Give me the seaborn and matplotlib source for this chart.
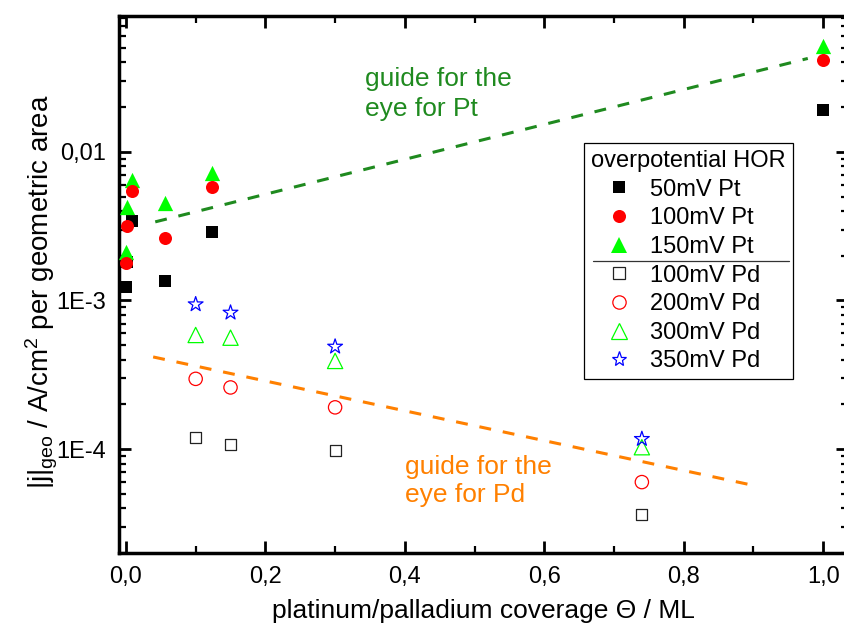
import numpy as np
import pandas as pd
import matplotlib
matplotlib.use("Agg")
import matplotlib.pyplot as plt
import seaborn as sns
from matplotlib.lines import Line2D
from matplotlib.ticker import LogLocator, NullFormatter, FixedLocator

# ---- data: current density |j| (A/cm^2 geometric) vs. coverage (ML) ----
pt_coverage = [0.0, 0.002, 0.008, 0.056, 0.123, 1.0]
pt_50mV = [1.23e-3, 1.82e-3, 3.43e-3, 1.35e-3, 2.89e-3, 0.0192]
pt_100mV = [1.79e-3, 3.18e-3, 5.46e-3, 2.64e-3, 5.81e-3, 0.0417]
pt_150mV = [2.12e-3, 4.27e-3, 6.48e-3, 4.54e-3, 7.22e-3, 0.0518]

pd_coverage = [0.10, 0.15, 0.30, 0.74]
pd_100mV = [1.19e-4, 1.08e-4, 9.8e-5, 3.65e-5]
pd_200mV = [2.97e-4, 2.60e-4, 1.91e-4, 6.0e-5]
pd_300mV = [5.86e-4, 5.62e-4, 3.92e-4, 1.03e-4]
pd_350mV = [9.42e-4, 8.28e-4, 4.89e-4, 1.17e-4]

# guide-for-the-eye lines (end points)
guide_pt_x = [0.042, 0.978]
guide_pt_y = [3.38e-3, 0.0425]
guide_pd_x = [0.039, 0.90]
guide_pd_y = [4.17e-4, 5.7e-5]

x_ticks = [0.0, 0.2, 0.4, 0.6, 0.8, 1.0]
x_tick_labels = ["0,0", "0,2", "0,4", "0,6", "0,8", "1,0"]
y_ticks = [1e-4, 1e-3, 1e-2]
y_tick_labels = ["1E-4", "1E-3", "0,01"]

legend_title = "overpotential HOR"

# ---- style ----
sns.set_theme(style="ticks")
plt.rcParams.update({
    "font.family": ["Liberation Sans", "DejaVu Sans"],
    "mathtext.default": "regular",
    "text.color": "black",
    "axes.labelcolor": "black",
    "axes.edgecolor": "black",
    "xtick.color": "black",
    "ytick.color": "black",
})

fig = plt.figure(figsize=(8.45, 6.28), dpi=100)
ax = fig.add_axes([0.1408, 0.1194, 1.003 - 0.1408, 0.9745 - 0.1194])

GREEN = "#00ff00"
RED = "#ff0000"
BLUE = "#0000ff"
DARK_GREEN = "#1f8a1f"
ORANGE = "#ff8000"

# guide lines
ax.plot(guide_pt_x, guide_pt_y, color=DARK_GREEN, lw=2.2, ls=(0, (3.9, 3.9)), zorder=1)
ax.plot(guide_pd_x, guide_pd_y, color=ORANGE, lw=2.2, ls=(0, (3.9, 3.9)), zorder=1)

# filled Pt series (squares, triangles, circles in drawing order)
pt_series = [
    ("50mV Pt", pt_50mV, "s", "black", 74),
    ("150mV Pt", pt_150mV, "^", GREEN, 121),
    ("100mV Pt", pt_100mV, "o", RED, 88),
]
for label, vals, mk, col, size in pt_series:
    df = pd.DataFrame({"coverage": pt_coverage, "j": vals})
    sns.scatterplot(data=df, x="coverage", y="j", marker=mk, color=col,
                    edgecolor=col, linewidth=0, s=size, ax=ax, legend=False,
                    zorder=3)

# open Pd series
pd_series = [
    ("100mV Pd", pd_100mV, "s", "#222222", 64),
    ("200mV Pd", pd_200mV, "o", RED, 92),
    ("300mV Pd", pd_300mV, "^", GREEN, 121),
    ("350mV Pd", pd_350mV, "*", BLUE, 125),
]
for label, vals, mk, col, size in pd_series:
    df = pd.DataFrame({"coverage": pd_coverage, "j": vals})
    sns.scatterplot(data=df, x="coverage", y="j", marker=mk, facecolor="none",
                    edgecolor=col, linewidth=0.9, s=size, ax=ax, legend=False,
                    zorder=3)

# axes scales and ticks
ax.set_yscale("log")
ax.set_xlim(-0.01, 1.035)
ax.set_ylim(2e-5, 0.082)
ax.set_xticks(x_ticks, x_tick_labels)
ax.xaxis.set_minor_locator(FixedLocator([0.1, 0.3, 0.5, 0.7, 0.9]))
ax.set_yticks(y_ticks, y_tick_labels)
ax.yaxis.set_minor_locator(LogLocator(base=10, subs=np.arange(2, 10)))
ax.yaxis.set_minor_formatter(NullFormatter())

ax.tick_params(which="major", direction="in", length=8.6, width=2.0,
               top=True, right=True, labelsize=17, pad=9)
ax.tick_params(which="minor", direction="in", length=5, width=1.6,
               top=True, right=True)
for sp in ax.spines.values():
    sp.set_linewidth(2.5)
    sp.set_visible(True)

ax.set_xlabel("platinum/palladium coverage \u0398 / ML", fontsize=19, labelpad=8)
ax.set_ylabel(r"|j|$_{geo}$ / A/cm$^{2}$ per geometric area", fontsize=20)
ax.yaxis.set_label_coords(-0.081, 0.486)

# annotations
ax.text(0.343, 0.0244, "guide for the\neye for Pt", color=DARK_GREEN, fontsize=19,
        ha="left", va="center", linespacing=1.3)
ax.text(0.40, 6.1e-5, "guide for the\neye for Pd", color=ORANGE, fontsize=19,
        ha="left", va="center", linespacing=1.2)

# legend
handles = [
    Line2D([], [], ls="none", marker="s", ms=8.6, mfc="black", mec="black", mew=0),
    Line2D([], [], ls="none", marker="o", ms=9.4, mfc=RED, mec=RED, mew=0),
    Line2D([], [], ls="none", marker="^", ms=11, mfc=GREEN, mec=GREEN, mew=0),
    Line2D([], [], ls="none", marker="s", ms=8, mfc="none", mec="#222222", mew=0.9),
    Line2D([], [], ls="none", marker="o", ms=9.6, mfc="none", mec=RED, mew=0.9),
    Line2D([], [], ls="none", marker="^", ms=11, mfc="none", mec=GREEN, mew=0.9),
    Line2D([], [], ls="none", marker="*", ms=11, mfc="none", mec=BLUE, mew=0.9),
]
labels = ["50mV Pt", "100mV Pt", "150mV Pt",
          "100mV Pd", "200mV Pd", "300mV Pd", "350mV Pd"]
leg = ax.legend(handles, labels, title=legend_title, loc="upper left",
                bbox_to_anchor=(0.638, 0.7635), borderaxespad=0, frameon=True,
                fancybox=False, edgecolor="black", framealpha=1, fontsize=17,
                title_fontsize=17, handlelength=2.35, handletextpad=0.15,
                borderpad=0.3, labelspacing=0.28, alignment="left")
leg.get_frame().set_linewidth(0.9)

# separator between Pt and Pd entries
fig.canvas.draw()
r = fig.canvas.get_renderer()
t3 = leg.get_texts()[2].get_window_extent(r)
t4 = leg.get_texts()[3].get_window_extent(r)
ymid = (t3.y0 + t4.y1) / 2
fb = leg.get_frame().get_window_extent(r)
inv = fig.transFigure.inverted()
(fx0, fy), (fx1, _) = inv.transform([(fb.x0 + 9, ymid), (fb.x1 - 4, ymid)])
fig.add_artist(Line2D([fx0, fx1], [fy, fy], color="#333333", lw=0.9))

fig.savefig("out.png", dpi=100)
